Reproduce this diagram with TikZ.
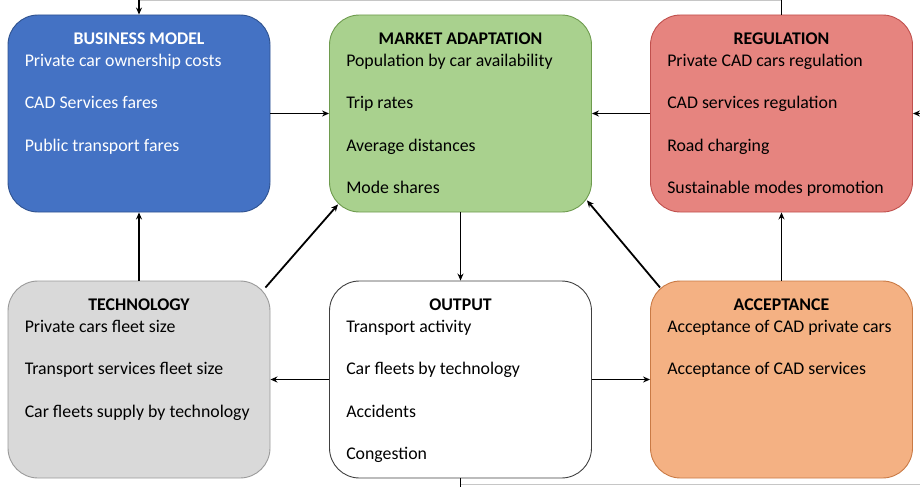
\documentclass[tikz,border=0pt]{standalone}
\usepackage{fontspec}
\setmainfont{Carlito}
\usetikzlibrary{arrows.meta,calc}
\definecolor{bmfill}{HTML}{4472C4}
\definecolor{bmline}{HTML}{2F528F}
\definecolor{mafill}{HTML}{A9D18E}
\definecolor{maline}{HTML}{6E9B4E}
\definecolor{refill}{HTML}{E6847F}
\definecolor{reline}{HTML}{C0504D}
\definecolor{tefill}{HTML}{D9D9D9}
\definecolor{teline}{HTML}{9A9A9A}
\definecolor{acfill}{HTML}{F4B183}
\definecolor{acline}{HTML}{C97A45}
\definecolor{ouline}{HTML}{404040}
\tikzset{
  bigbox/.style={rounded corners=30pt, line width=0.9pt, minimum width=262pt, minimum height=197pt, inner sep=0pt},
  ttl/.style={anchor=base, font=\fontsize{17.8}{20}\selectfont\bfseries, inner sep=0pt},
  itm/.style={anchor=base west, font=\fontsize{17.8}{20}\selectfont, inner sep=0pt},
  conn/.style={line width=1.8pt, black},
  arr/.style={conn, -{Stealth[length=7pt,width=6pt]}},
  loopline/.style={line width=1pt, gray!45}
}
\begin{document}
\begin{tikzpicture}[x=1pt,y=-1pt]
\useasboundingbox (0,0) rectangle (920,487);
% boxes
\node[bigbox, fill=bmfill, draw=bmline] (bm) at (139,113.5) {};
\node[bigbox, fill=mafill, draw=maline] (ma) at (460.5,113.5) {};
\node[bigbox, fill=refill, draw=reline] (re) at (781.5,113.5) {};
\node[bigbox, fill=tefill, draw=teline] (te) at (139,379.5) {};
\node[bigbox, fill=white, draw=ouline] (ou) at (460.5,379.5) {};
\node[bigbox, fill=acfill, draw=acline] (ac) at (781.5,379.5) {};
% business model
\node[ttl, text=white] (bmt) at ($(bm.north)+(0,30)$) {BUSINESS MODEL};
\node[itm, text=white] (bm1) at ($(bm.north west)+(17,52)$) {Private car ownership costs};
\node[itm, text=white] (bm2) at ($(bm.north west)+(17,94.3)$) {CAD Services fares};
\node[itm, text=white] (bm3) at ($(bm.north west)+(17,136.6)$) {Public transport fares};
% market adaptation
\node[ttl] (mat) at ($(ma.north)+(0,30)$) {MARKET ADAPTATION};
\node[itm] (ma1) at ($(ma.north west)+(17,52)$) {Population by car availability};
\node[itm] (ma2) at ($(ma.north west)+(17,94.3)$) {Trip rates};
\node[itm] (ma3) at ($(ma.north west)+(17,136.6)$) {Average distances};
\node[itm] (ma4) at ($(ma.north west)+(17,178.9)$) {Mode shares};
% regulation
\node[ttl] (ret) at ($(re.north)+(0,30)$) {REGULATION};
\node[itm] (re1) at ($(re.north west)+(17,52)$) {Private CAD cars regulation};
\node[itm] (re2) at ($(re.north west)+(17,94.3)$) {CAD services regulation};
\node[itm] (re3) at ($(re.north west)+(17,136.6)$) {Road charging};
\node[itm] (re4) at ($(re.north west)+(17,178.9)$) {Sustainable modes promotion};
% technology
\node[ttl] (tet) at ($(te.north)+(0,30)$) {TECHNOLOGY};
\node[itm] (te1) at ($(te.north west)+(17,52)$) {Private cars fleet size};
\node[itm] (te2) at ($(te.north west)+(17,94.3)$) {Transport services fleet size};
\node[itm] (te3) at ($(te.north west)+(17,136.6)$) {Car fleets supply by technology};
% output
\node[ttl] (out) at ($(ou.north)+(0,30)$) {OUTPUT};
\node[itm] (ou1) at ($(ou.north west)+(17,52)$) {Transport activity};
\node[itm] (ou2) at ($(ou.north west)+(17,94.3)$) {Car fleets by technology};
\node[itm] (ou3) at ($(ou.north west)+(17,136.6)$) {Accidents};
\node[itm] (ou4) at ($(ou.north west)+(17,178.9)$) {Congestion};
% acceptance
\node[ttl] (act) at ($(ac.north)+(0,30)$) {ACCEPTANCE};
\node[itm] (ac1) at ($(ac.north west)+(17,52)$) {Acceptance of CAD private cars};
\node[itm] (ac2) at ($(ac.north west)+(17,94.3)$) {Acceptance of CAD services};
% loop coordinates
\coordinate (topL) at (bm.north |- 0,0);
\coordinate (topR) at (re.north |- 0,0);
\coordinate (botL) at (ou.south |- 0,487);
\coordinate (rightE) at (920,113.5);
\coordinate (topLg) at (bm.north |- 0,1);
\coordinate (topRg) at (re.north |- 0,1);
\coordinate (botLg) at (ou.south |- 0,484);
\coordinate (botRg) at (920,484);
% faint cut loop lines
\draw[loopline] (topLg) -- (topRg);
\draw[loopline] (botLg) -- (botRg);
% connectors
\draw[arr] (topL) -- (bm.north);
\draw[conn] (re.north) -- (topR);
\draw[conn] (ou.south) -- (botL);
\draw[arr] (rightE) -- (re.east);
\draw[arr] (bm.east) -- (ma.west);
\draw[arr] (re.west) -- (ma.east);
\draw[arr] (ma.south) -- (ou.north);
\draw[arr] (te.north) -- (bm.south);
\draw[arr] (ac.north) -- (re.south);
\draw[arr] (ou.west) -- (te.east);
\draw[arr] (ou.east) -- (ac.west);
\draw[arr] ($(te.north east)+(-5,7)$) -- ($(ma.south west)+(9,-8)$);
\draw[arr] ($(ac.north west)+(10,7)$) -- ($(ma.south east)+(-5,-12)$);
\end{tikzpicture}
\end{document}
